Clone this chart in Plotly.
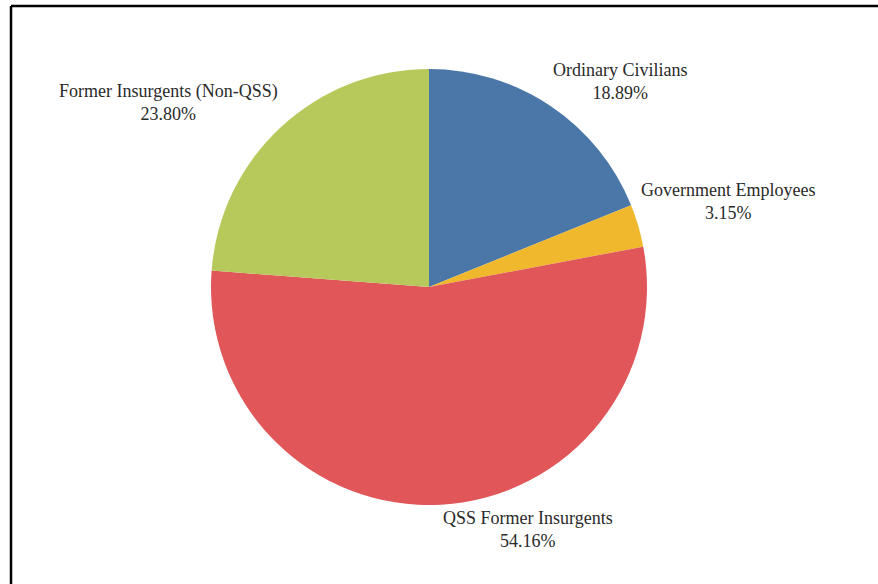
import math
import plotly.graph_objects as go

# ---- data ----
categories = ["Ordinary Civilians", "Government Employees", "QSS Former Insurgents", "Former Insurgents (Non-QSS)"]
values = [18.89, 3.15, 54.16, 23.80]

# ---- style ----
colors = ["#4a76a8", "#f0b92d", "#e05659", "#b8c95c"]

W, H = 878, 584
CX, CY, R = 429, 287, 218  # pie centre / radius in px
GAP = 1

fig = go.Figure(go.Pie(
    labels=categories,
    values=values,
    sort=False,
    direction="clockwise",
    rotation=0,
    textinfo="none",
    hoverinfo="label+percent",
    marker=dict(colors=colors, line=dict(width=0)),
    domain=dict(x=[(CX - R) / W, (CX + R) / W], y=[1 - (CY + R) / H, 1 - (CY - R) / H]),
    showlegend=False,
))

total = sum(values)
cum = 0.0
annotations = []
for cat, v in zip(categories, values):
    mid = (cum + v / 2) / total * 2 * math.pi
    cum += v
    s, c = math.sin(mid), math.cos(mid)
    px = CX + (R + GAP) * s
    py = CY - (R + GAP) * c
    xa = "left" if s >= 0 else "right"
    ya = "bottom" if c > 0 else "top"
    annotations.append(dict(
        x=px / W, y=1 - py / H, xref="paper", yref="paper",
        xanchor=xa, yanchor=ya, align="center", showarrow=False,
        text=f"{cat}<br>{v / total * 100:.2f}%",
        font=dict(family="Liberation Serif, Times New Roman, serif", size=18, color="#2a2a2a"),
    ))

shapes = [
    dict(type="line", xref="paper", yref="paper", x0=11 / W, x1=1, y0=1 - 6 / H, y1=1 - 6 / H,
         line=dict(color="black", width=2.5)),
    dict(type="line", xref="paper", yref="paper", x0=11 / W, x1=11 / W, y0=0, y1=1 - 6 / H,
         line=dict(color="black", width=2.5)),
]

fig.update_layout(
    width=W, height=H,
    margin=dict(l=0, r=0, t=0, b=0),
    paper_bgcolor="white", plot_bgcolor="white",
    annotations=annotations, shapes=shapes,
)

fig.write_html("out.html")
